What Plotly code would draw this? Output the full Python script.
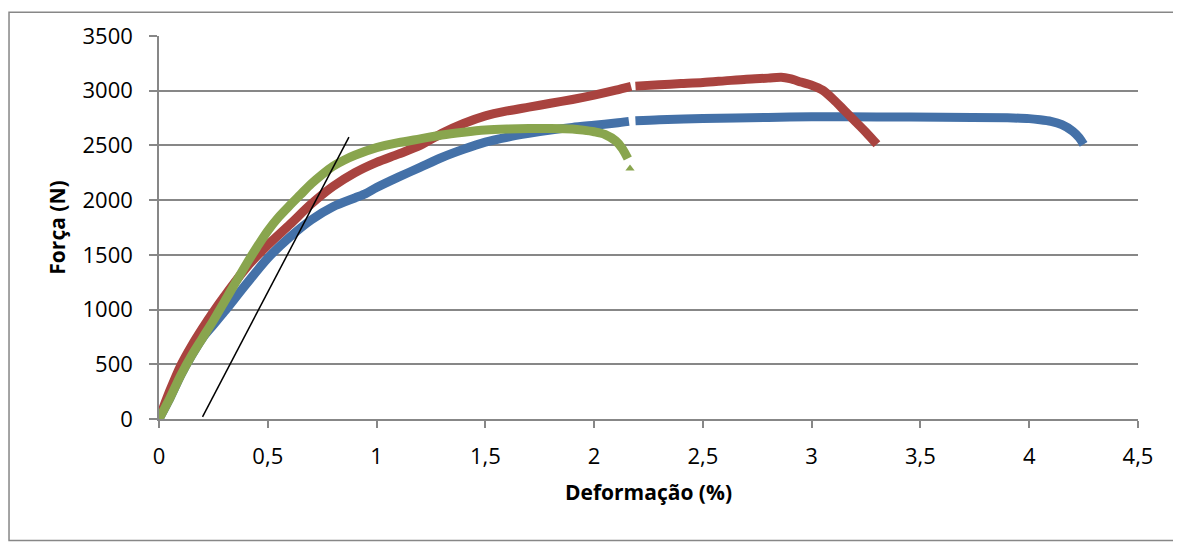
import plotly.graph_objects as go

# ---- data ----
blue_x = [0, 0.05, 0.1, 0.15, 0.2, 0.25, 0.3, 0.4, 0.5, 0.6, 0.7, 0.8, 0.9, 0.95, 1.0, 1.1, 1.2, 1.3, 1.4,
          1.5, 1.6, 1.7, 1.8, 1.9, 2.0, 2.1, 2.16, None, 2.19, 2.3, 2.5, 2.8, 3.0, 3.3, 3.6, 3.9, 4.0,
          4.05, 4.1, 4.15, 4.2, 4.23, 4.25]
blue_y = [0, 190, 400, 580, 740, 860, 980, 1230, 1470, 1660, 1820, 1940, 2020, 2060, 2115, 2210, 2300,
          2390, 2465, 2530, 2575, 2610, 2640, 2665, 2685, 2705, 2720, None, 2725, 2735, 2745, 2755, 2762,
          2760, 2758, 2752, 2745, 2735, 2720, 2690, 2630, 2570, 2510]

red_x = [0, 0.05, 0.1, 0.15, 0.2, 0.25, 0.3, 0.4, 0.5, 0.6, 0.7, 0.8, 0.9, 1.0, 1.1, 1.2, 1.3, 1.4, 1.5,
         1.6, 1.7, 1.8, 1.9, 2.0, 2.1, 2.17, None, 2.19, 2.3, 2.4, 2.5, 2.6, 2.7, 2.8, 2.86, 2.9, 2.95,
         3.0, 3.05, 3.1, 3.15, 3.2, 3.25, 3.3]
red_y = [0, 260, 490, 670, 830, 980, 1120, 1380, 1590, 1775, 1965, 2125, 2250, 2345, 2420, 2500, 2610,
         2700, 2770, 2815, 2850, 2885, 2920, 2960, 3005, 3040, None, 3042, 3055, 3065, 3075, 3090, 3105,
         3115, 3122, 3110, 3080, 3050, 3005, 2920, 2820, 2720, 2620, 2510]

green_x = [0, 0.05, 0.1, 0.15, 0.2, 0.25, 0.3, 0.35, 0.4, 0.45, 0.5, 0.55, 0.6, 0.65, 0.7, 0.75, 0.8,
           0.85, 0.9, 1.0, 1.1, 1.2, 1.3, 1.4, 1.5, 1.6, 1.7, 1.8, 1.9, 1.95, 2.0, 2.05, 2.1, 2.13, 2.155]
green_y = [0, 190, 400, 580, 740, 900, 1070, 1240, 1410, 1570, 1720, 1845, 1950, 2050, 2150, 2235, 2310,
           2365, 2410, 2480, 2525, 2560, 2595, 2620, 2640, 2650, 2655, 2655, 2650, 2640, 2625, 2600,
           2540, 2470, 2380]

green_end_x = [2.165]
green_end_y = [2290]

tangent_x = [0.2, 0.873]
tangent_y = [20, 2575]

x_ticks = [0, 0.5, 1, 1.5, 2, 2.5, 3, 3.5, 4, 4.5]
x_tick_labels = ["0", "0,5", "1", "1,5", "2", "2,5", "3", "3,5", "4", "4,5"]
y_ticks = [0, 500, 1000, 1500, 2000, 2500, 3000, 3500]
y_tick_labels = ["0", "500", "1000", "1500", "2000", "2500", "3000", "3500"]

BLUE = "#4471A8"
RED = "#A9433F"
GREEN = "#89A54E"
GRID = "#878787"
FONT = "Open Sans"

fig = go.Figure()
fig.add_trace(go.Scatter(x=blue_x, y=blue_y, mode="lines",
                         line=dict(color=BLUE, width=9, shape="spline", smoothing=0.8),
                         connectgaps=False))
fig.add_trace(go.Scatter(x=red_x, y=red_y, mode="lines",
                         line=dict(color=RED, width=9, shape="spline", smoothing=0.8),
                         connectgaps=False))
fig.add_trace(go.Scatter(x=green_x, y=green_y, mode="lines",
                         line=dict(color=GREEN, width=9, shape="spline", smoothing=0.8)))
fig.add_trace(go.Scatter(x=green_end_x, y=green_end_y, mode="markers",
                         marker=dict(color=GREEN, symbol="triangle-up", size=8)))
fig.add_trace(go.Scatter(x=tangent_x, y=tangent_y, mode="lines",
                         line=dict(color="black", width=1.5)))

fig.update_layout(
    width=1173, height=535,
    margin=dict(l=151, r=43, t=25, b=124),
    paper_bgcolor="white", plot_bgcolor="white",
    showlegend=False,
    font=dict(family=FONT, size=22, color="black"),
    xaxis=dict(range=[0, 4.5], tickvals=x_ticks, ticktext=x_tick_labels,
               showgrid=False, zeroline=False, showline=True, linecolor=GRID, linewidth=1.5,
               ticks="outside", ticklen=7, tickcolor=GRID, tickwidth=1.5,
               ticklabelstandoff=10,
               tickfont=dict(family=FONT, size=22),
               title=dict(text="<b>Deformação (%)</b>", font=dict(family=FONT, size=21), standoff=16)),
    yaxis=dict(range=[0, 3500], tickvals=y_ticks, ticktext=y_tick_labels,
               showgrid=True, gridcolor=GRID, gridwidth=1.5, zeroline=False,
               showline=True, linecolor=GRID, linewidth=1.5,
               ticks="outside", ticklen=8, tickcolor=GRID, tickwidth=1.5,
               ticklabelstandoff=12,
               tickfont=dict(family=FONT, size=22),
               title=dict(text="<b>Força (N)</b>", font=dict(family=FONT, size=21), standoff=11)),
)

# outer chart border
fig.add_shape(type="rect", xref="paper", yref="paper",
              x0=-0.1532, x1=1.06, y0=-0.3174, y1=1.0622,
              line=dict(color=GRID, width=1.5), fillcolor="rgba(0,0,0,0)", layer="below")

fig.write_html("out.html")
